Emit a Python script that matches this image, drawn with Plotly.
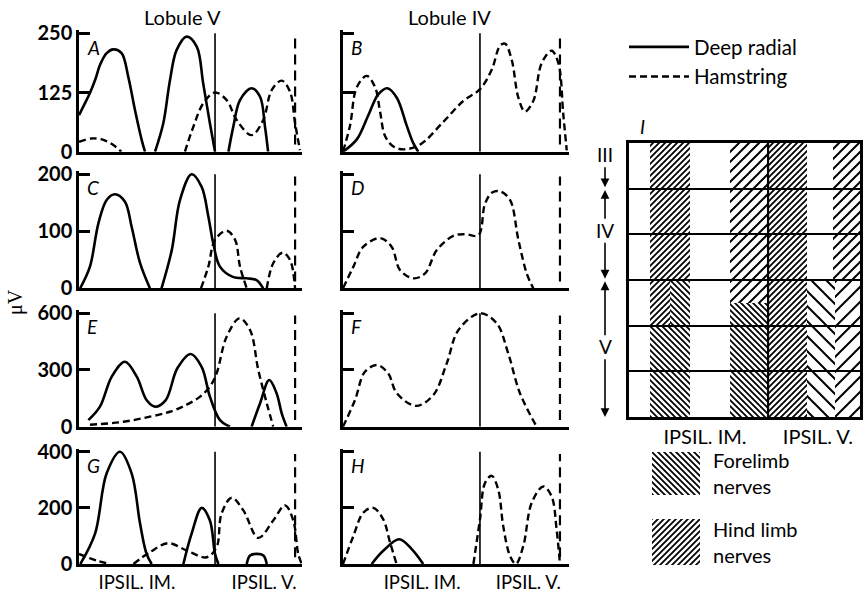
import plotly.graph_objects as go

W, H = 867, 592

# ---------------- data ----------------
panel_letters = ["A", "B", "C", "D", "E", "F", "G", "H"]
lobule_titles = ["Lobule V", "Lobule IV"]
row_top = [250, 200, 600, 400]
row_mid = [125, 100, 300, 200]
region_labels = ["IPSIL. IM.", "IPSIL. V."]
region_label_x_left = [26, 83]
region_label_x_right = [35, 82]
boundary_left = [61, 96.9]      # solid = IM/V boundary, dashed = end of V
boundary_right = [60.6, 96]

a_radial_x = [0, 2.3, 5, 7.5, 9.4, 12.4, 15.4, 19.1, 22.1, 25.1, 28.1, 29.6, None,
              34.1, 37.8, 40.8, 43.8, 48.3, 52.8, 55.7, 58.7, 61, None,
              67, 69.2, 72.2, 77.4, 81.2, 83.4, 84.8]
a_radial_y = [77, 99, 125, 155, 183, 208, 216, 208, 158, 88, 25, 0, None,
              0, 60, 151, 215, 243, 222, 144, 60, 0, None,
              0, 53, 109, 134, 116, 53, 0]
a_ham_x = [0, 5.7, 10.9, 15.4, 19, None, 47.5, 51.3, 55.7, 61, 66.2, 70.7, 77.4, 82.6, 86.4, 90.9, 94.6, 96.9, 99.1]
a_ham_y = [21, 28, 25, 14, 0, None, 0, 53, 102, 125, 109, 67, 35, 67, 130, 150, 127, 60, 3]

b_radial_x = [0, 6.1, 11.2, 15.6, 19.6, 23.8, 28.2, 31.1, 33.3]
b_radial_y = [0, 26, 77, 121, 134, 114, 55, 18, 0]
b_ham_x = [0, 3.1, 6.1, 10.5, 14.2, 16.4, 18.6, 22.3, 26.8, 34.1, 44.4, 53.2, 60.6, 65.8, 69.5, 71.7,
           74.6, 77.6, 80.5, 84.2, 87.9, 92.3, 95.3, 97.5, 99]
b_ham_y = [0, 55, 136, 160, 136, 85, 33, 11, 5, 15, 63, 107, 132, 173, 224, 228,
           195, 114, 85, 107, 187, 213, 187, 77, 3]

c_radial_x = [0.5, 4.9, 8.7, 12.4, 16.1, 20.6, 23.6, 27.4, 31.8, None,
              37, 41.6, 45.3, 50.5, 55, 58, 60.2, 63.2, 69, 75.2, 79.6, 82.6]
c_radial_y = [0, 38, 114, 155, 165, 152, 108, 44, 0, None,
              0, 67, 155, 200, 178, 126, 79, 38, 20, 17.5, 14.5, 0]
c_ham_x = [54.7, 58, 61, 66.2, 70, 72.2, 75.2, None, 84.2, 87.1, 91.3, 94.6, 96.9]
c_ham_y = [0, 38, 85, 101, 85, 38, 0, None, 0, 44, 62.5, 50, 0]

d_radial_x = []
d_radial_y = []
d_ham_x = [0, 4.6, 9, 16.4, 21.5, 25.2, 31.1, 36.3, 41.5, 48.8, 54, 59.9, 62.8, 66, 69.5, 73.9, 77.6, 81.3, 84.2]
d_ham_y = [0, 38, 73, 88, 73, 32, 17.5, 26, 67, 92, 95, 93, 148, 168, 170, 155, 85, 26, 0]

e_radial_x = [4.2, 9.4, 14.7, 20.6, 25.9, 30.3, 34.1, 38.9, 44.1, 50.1, 55, 58.7, 63.2, 67.7, None,
              77.4, 81.2, 85.3, 88.6, 90.9, 93.1]
e_radial_y = [35, 106, 265, 344, 265, 141, 106, 141, 309, 385, 317, 159, 35, 0, None,
              0, 124, 247, 177, 71, 0]
e_ham_x = [4.9, 19.9, 31.8, 40.8, 48.1, 54.3, 58.7, 61.7, 66.2, 72, 76.7, 80.4, 84.2, 87.1]
e_ham_y = [10, 26, 53, 79, 115, 159, 212, 282, 476, 573, 512, 300, 124, 0]

f_radial_x = []
f_radial_y = []
f_ham_x = [0, 5.3, 9.7, 15.2, 20, 23.8, 32.3, 40, 45.9, 51.1, 60.6, 68, 73.1, 78.3, 85.7]
f_ham_y = [0, 141, 291, 326, 282, 177, 110, 168, 335, 512, 600, 547, 388, 177, 0]

g_radial_x = [0.6, 7.2, 12.4, 18.4, 23.6, 27.4, 30.3, 32.6, None,
              46.8, 50.5, 55, 58.7, 61, 62.5, None,
              75.2, 76.7, 79.6, 82.7, 84.2]
g_radial_y = [0, 108, 323, 400, 323, 143, 36, 0, None,
              0, 108, 200, 155, 36, 0, None,
              0, 30, 36, 30, 0]
g_ham_x = [0, 7.9, 13.9, None, 24.4, 31.8, 40, 48.3, 57.2, 61.7, 63.9, 68.5, 73.7, 80.4, 87.1, 92.4, 96.1, 98.3, 99.9]
g_ham_y = [36, 12, 0, None, 0, 42, 74, 48, 24, 60, 179, 236, 191, 93, 155, 209, 155, 36, 0]

h_radial_x = [12.7, 17.8, 24.9, 30.4, 35.5]
h_radial_y = [0, 47, 88, 53, 0]
h_ham_x = [0, 4.6, 9, 13.4, 17.8, 20.8, 23.7, None,
           57.7, 60.6, 62.8, 65.8, 68.7, 70.9, 73.9, 76.5, 79.8, 83.5, 88.6, 92.3, 94.5, 96]
h_ham_y = [0, 100, 183, 200, 159, 77, 0, None,
           0, 159, 288, 314, 265, 135, 29, 0, 65, 218, 276, 241, 124, 0]

radial_x = [a_radial_x, b_radial_x, c_radial_x, d_radial_x, e_radial_x, f_radial_x, g_radial_x, h_radial_x]
radial_y = [a_radial_y, b_radial_y, c_radial_y, d_radial_y, e_radial_y, f_radial_y, g_radial_y, h_radial_y]
ham_x = [a_ham_x, b_ham_x, c_ham_x, d_ham_x, e_ham_x, f_ham_x, g_ham_x, h_ham_x]
ham_y = [a_ham_y, b_ham_y, c_ham_y, d_ham_y, e_ham_y, f_ham_y, g_ham_y, h_ham_y]

# Panel I: schematic of projection areas (column units 0-10, rows 0-6 bottom->top)
lobule_names = ["III", "IV", "V"]
lobule_lo = [5, 3, 0]
lobule_hi = [6, 5, 3]
i_regions = ["IPSIL. IM.", "IPSIL. V."]
i_region_pos = [3.29, 8.18]
i_divider = 6.02
hatch_x0 = [0.91, 0.91, 1.77, 0.91, 4.37, 4.37, 4.37, 4.37, 6.02, 8.83, 7.71, 8.92]
hatch_x1 = [2.64, 1.77, 2.64, 2.64, 6.02, 6.02, 6.02, 6.02, 7.71, 10.0, 8.92, 10.0]
hatch_y0 = [3, 2, 2, 0, 3, 2.5, 2, 0, 0, 3, 0, 0]
hatch_y1 = [6, 3, 3, 2, 6, 3, 2.5, 2, 6, 6, 3, 3]
hatch_nerve = ["hind", "hind", "fore", "fore", "hind", "hind", "fore", "fore", "hind", "hind", "fore", "hind"]
hatch_kind = ["dense", "dense", "dense", "dense", "sparse", "sparse", "dense", "dense", "dense", "sparse", "wide", "wide"]
nerve_legend = ["Forelimb<br>nerves", "Hind limb<br>nerves"]
nerve_legend_type = ["fore", "hind"]

# ---------------- styles ----------------
FONT = "Lato"
FS = 20
BLK = "black"
SQ2 = 2 ** 0.5
pattern_shape = {"fore": "\\", "hind": "/"}
kind_size = {"dense": 6 / SQ2, "sparse": 10 / SQ2, "wide": 15 / SQ2}
kind_solid = {"dense": 0.42, "sparse": 0.28, "wide": 0.19}

col_px = [(79, 302), (343, 569)]
row_zero_px = [151.7, 288.3, 426.7, 564.0]
row_top_px = [33.3, 174.3, 313.3, 451.7]
pad = 1.025

fig = go.Figure()
layout = {}
shapes = []
annotations = []


def txt(text, x, y, size=FS, family=FONT, **kw):
    d = dict(text=text, xref="paper", yref="paper", x=x, y=y, xanchor="center", yanchor="middle",
             showarrow=False, font=dict(size=size, family=family, color=BLK))
    d.update(kw)
    return d


for i, letter in enumerate(panel_letters):
    row, col = i // 2, i % 2
    k = i + 1
    xs = "x" if k == 1 else f"x{k}"
    ys = "y" if k == 1 else f"y{k}"
    top = row_top[row]
    zero_px = row_zero_px[row]
    top_px = zero_px - (zero_px - row_top_px[row]) * pad
    ydom = [1 - zero_px / H, 1 - top_px / H]
    xdom = [col_px[col][0] / W, col_px[col][1] / W]

    if radial_x[i]:
        fig.add_trace(go.Scatter(x=radial_x[i], y=radial_y[i], mode="lines", name="Deep radial",
                                 line=dict(color=BLK, width=2.6, shape="spline", smoothing=1.0),
                                 xaxis=xs, yaxis=ys, showlegend=(i == 0), legendgroup="r",
                                 connectgaps=False, hoverinfo="skip"))
    fig.add_trace(go.Scatter(x=ham_x[i], y=ham_y[i], mode="lines", name="Hamstring",
                             line=dict(color=BLK, width=2.4, dash="7px,4px", shape="spline", smoothing=1.0),
                             xaxis=xs, yaxis=ys, showlegend=(i == 0), legendgroup="h",
                             connectgaps=False, hoverinfo="skip"))

    bottom = row == 3
    xa = dict(domain=xdom, range=[0, 100], anchor=ys, showline=True, linewidth=2.5, linecolor=BLK,
              showgrid=False, zeroline=False, ticks="", showticklabels=bottom, fixedrange=True,
              automargin=False)
    if bottom:
        xa.update(tickmode="array",
                  tickvals=region_label_x_left if col == 0 else region_label_x_right,
                  ticktext=region_labels, tickfont=dict(size=18.5, family=FONT, color=BLK))
    ya = dict(domain=ydom, range=[0, top * pad], anchor=xs, showline=True, linewidth=2.5, linecolor=BLK,
              showgrid=False, zeroline=False, ticks="inside", ticklen=11, tickwidth=2.5, tickcolor=BLK,
              tickmode="array", tickvals=[0, row_mid[row], top], ticktext=["0", str(row_mid[row]), str(top)],
              showticklabels=(col == 0), tickfont=dict(size=20, family=FONT, color=BLK, weight="bold"),
              fixedrange=True, automargin=False)
    layout["xaxis" if k == 1 else f"xaxis{k}"] = xa
    layout["yaxis" if k == 1 else f"yaxis{k}"] = ya

    bnd = boundary_left if col == 0 else boundary_right
    shapes.append(dict(type="line", xref=xs, yref=ys, x0=bnd[0], x1=bnd[0], y0=0, y1=top,
                       line=dict(color=BLK, width=1.6)))
    shapes.append(dict(type="line", xref=xs, yref=ys, x0=bnd[1], x1=bnd[1], y0=top * 0.06, y1=top * 0.98,
                       line=dict(color=BLK, width=2.2, dash="10px,6px")))
    annotations.append(dict(text=f"<i>{letter}</i>", xref=f"{xs} domain", yref=f"{ys} domain",
                            x=0.025, y=0.86, xanchor="left", yanchor="middle", showarrow=False,
                            font=dict(size=19, family=FONT, color=BLK)))

# column titles
for j, t in enumerate(lobule_titles):
    annotations.append(txt(t, [182, 450][j] / W, 1 - 17 / H))
# y unit label
annotations.append(txt("μV", 15 / W, 1 - 302 / H, size=20, family="Liberation Serif", textangle=-90))

# ---------------- panel I ----------------
cx = [(a + b) / 2 for a, b in zip(hatch_x0, hatch_x1)]
cw = [b - a for a, b in zip(hatch_x0, hatch_x1)]
ch = [b - a for a, b in zip(hatch_y0, hatch_y1)]
fig.add_trace(go.Bar(x=cx, y=ch, base=hatch_y0, width=cw, xaxis="x9", yaxis="y9", showlegend=False,
                     hoverinfo="skip",
                     marker=dict(color=BLK, line=dict(width=0),
                                 pattern=dict(shape=[pattern_shape[n] for n in hatch_nerve],
                                              size=[kind_size[s] for s in hatch_kind],
                                              solidity=[kind_solid[s] for s in hatch_kind],
                                              fillmode="replace"))))
layout["xaxis9"] = dict(domain=[629 / W, 860 / W], range=[0, 10], anchor="y9", showline=True, mirror=True,
                        linewidth=2.5, linecolor=BLK, showgrid=False, zeroline=False, ticks="",
                        tickmode="array", tickvals=i_region_pos, ticktext=i_regions,
                        tickfont=dict(size=FS, family=FONT, color=BLK), fixedrange=True, automargin=False)
layout["yaxis9"] = dict(domain=[1 - 417 / H, 1 - 143 / H], range=[0, 6], anchor="x9", showline=True, mirror=True,
                        linewidth=2.5, linecolor=BLK, showgrid=True, gridcolor=BLK, gridwidth=2,
                        zeroline=False, ticks="", tickmode="array", tickvals=[1, 2, 3, 4, 5],
                        showticklabels=False, fixedrange=True, automargin=False)
shapes.append(dict(type="line", xref="x9", yref="y9", x0=i_divider, x1=i_divider, y0=0, y1=6,
                   line=dict(color=BLK, width=2.2)))
annotations.append(txt("<i>I</i>", 642 / W, 1 - 127 / H, size=19))

# lobule labels with arrows
lab_x = 605 / W
label_y = [5.74, 4.09, 1.54]
for name, lo, hi, ly in zip(lobule_names, lobule_lo, lobule_hi, label_y):
    annotations.append(dict(text=name, xref="paper", yref="y9", x=lab_x, y=ly, xanchor="center",
                            yanchor="middle", showarrow=False, font=dict(size=19, family=FONT, color=BLK)))
    if hi < 6:
        annotations.append(dict(text="", xref="paper", yref="y9", x=lab_x, y=hi - 0.03, axref="pixel", ax=0,
                                ayref="y9", ay=ly + 0.22, showarrow=True, arrowhead=2, arrowsize=1.1,
                                arrowwidth=1.6, arrowcolor=BLK))
    annotations.append(dict(text="", xref="paper", yref="y9", x=lab_x, y=lo + (0.03 if lo > 0 else 0),
                            axref="pixel", ax=0, ayref="y9", ay=ly - 0.24, showarrow=True, arrowhead=2,
                            arrowsize=1.1, arrowwidth=1.6, arrowcolor=BLK))

# hatch legend swatches
sw_dom_y = [(452, 495), (519, 565)]
for j, (lab, nt) in enumerate(zip(nerve_legend, nerve_legend_type)):
    xn, yn = f"x{10 + j}", f"y{10 + j}"
    fig.add_trace(go.Bar(x=[0], y=[1], width=[1], xaxis=xn, yaxis=yn, showlegend=False, hoverinfo="skip",
                         marker=dict(color=BLK, line=dict(width=0),
                                     pattern=dict(shape=pattern_shape[nt], size=kind_size["dense"],
                                                  solidity=kind_solid["dense"], fillmode="replace"))))
    layout[f"xaxis{10 + j}"] = dict(domain=[652 / W, 700 / W], range=[-0.5, 0.5], anchor=yn, visible=False,
                                    fixedrange=True, automargin=False)
    layout[f"yaxis{10 + j}"] = dict(domain=[1 - sw_dom_y[j][1] / H, 1 - sw_dom_y[j][0] / H], range=[0, 1],
                                    anchor=xn, visible=False, fixedrange=True, automargin=False)
    annotations.append(txt(lab, 711 / W, 1 - (sw_dom_y[j][0] + sw_dom_y[j][1]) / 2 / H,
                           xanchor="left", align="left"))

fig.update_layout(**layout)
fig.update_layout(
    template="none",
    width=W, height=H, margin=dict(l=0, r=0, t=0, b=0, autoexpand=False),
    paper_bgcolor="white", plot_bgcolor="rgba(0,0,0,0)",
    font=dict(family=FONT, color=BLK, size=FS),
    shapes=shapes, annotations=annotations,
    legend=dict(x=624 / W, y=1 - 27 / H, xanchor="left", yanchor="top", bgcolor="rgba(0,0,0,0)",
                font=dict(size=20.5, family=FONT, color=BLK), itemwidth=60, tracegroupgap=0),
    bargap=0,
)
fig.write_html("out.html", config={"displayModeBar": False},
               post_script="document.body.style.margin='0px';document.body.style.overflow='hidden';")
